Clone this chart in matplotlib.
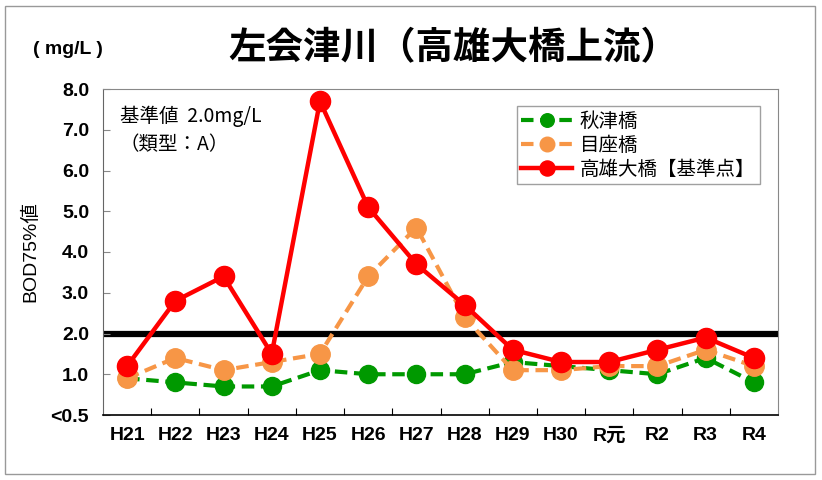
import matplotlib
matplotlib.use("Agg")
import matplotlib.pyplot as plt
from matplotlib.patches import Rectangle

plt.rcParams['font.family'] = ['Noto Sans CJK JP', 'DejaVu Sans']
LATIN = ['Liberation Sans', 'Noto Sans CJK JP']

years = ["H21", "H22", "H23", "H24", "H25", "H26", "H27", "H28",
         "H29", "H30", "R元", "R2", "R3", "R4"]
akitsu = [0.9, 0.8, 0.7, 0.7, 1.1, 1.0, 1.0, 1.0, 1.3, 1.2, 1.1, 1.0, 1.4, 0.8]
meza = [0.9, 1.4, 1.1, 1.3, 1.5, 3.4, 4.6, 2.4, 1.1, 1.1, 1.2, 1.2, 1.6, 1.2]
takao = [1.2, 2.8, 3.4, 1.5, 7.7, 5.1, 3.7, 2.7, 1.6, 1.3, 1.3, 1.6, 1.9, 1.4]
standard = 2.0
yticks = [0, 1, 2, 3, 4, 5, 6, 7, 8]
ylabels = ["<0.5", "1.0", "2.0", "3.0", "4.0", "5.0", "6.0", "7.0", "8.0"]

fig = plt.figure(figsize=(8.22, 4.8), dpi=100)
ax = fig.add_axes([103 / 822, 1 - 415 / 480, 675 / 822, 326 / 480])

x = range(len(years))
ax.axhline(standard, color="black", lw=4.5, zorder=1)
ax.plot(x, akitsu, color="#009900", ls=(0, (3, 1.6)), lw=3, marker="o", ms=13,
        label="秋津橋", zorder=3)
ax.plot(x, meza, color="#f79646", ls=(0, (3, 1.6)), lw=3, marker="o", ms=14,
        label="目座橋", zorder=4)
ax.plot(x, takao, color="#ff0000", lw=3.2, marker="o", ms=14.5,
        label="高雄大橋【基準点】", zorder=5)

ax.set_xlim(-0.5, len(years) - 0.5)
ax.set_ylim(0, 8)
ax.set_yticks(yticks)
ax.set_yticklabels(ylabels, fontsize=14, fontweight="bold", family=LATIN)
ax.set_xticks([i + 0.5 for i in range(len(years) - 1)])
ax.set_xticklabels([])
ax.set_xticks(list(x), minor=True)
ax.set_xticklabels(years, minor=True, fontsize=14, fontweight="bold", family=LATIN)
ax.tick_params(axis="x", which="major", direction="in", length=5, color="black")
ax.tick_params(axis="x", which="minor", length=0, pad=9)
ax.tick_params(axis="y", direction="in", length=5, color="#888888", pad=10)
for side in ["top", "right"]:
    ax.spines[side].set_color("#888888")
ax.spines["left"].set_color("#666666")
ax.spines["bottom"].set_color("black")
ax.spines["bottom"].set_linewidth(1.2)

ax.set_ylabel("BOD75%値", fontsize=14, family=LATIN, labelpad=8)

ax.text(0.025, 0.917, "基準値  2.0mg/L", transform=ax.transAxes, fontsize=14,
        va="center", ha="left")
ax.text(0.025, 0.83, "（類型：A）", transform=ax.transAxes, fontsize=14,
        va="center", ha="left")

leg = ax.legend(loc="upper right", bbox_to_anchor=(0.988, 0.978), fontsize=14,
                frameon=True, fancybox=False, edgecolor="#888888",
                handlelength=2.6, handletextpad=0.4, borderpad=0.25,
                labelspacing=0.15, markerscale=0.75)
leg.get_frame().set_linewidth(1)

fig.text(453 / 822, 1 - 48 / 480, "左会津川（高雄大橋上流）", fontsize=27,
         fontweight="bold", ha="center", va="center")
fig.text(68 / 822, 1 - 50 / 480, "( mg/L )", fontsize=14, fontweight="bold",
         family=LATIN, ha="center", va="center")

fig.patches.append(Rectangle((5 / 822, 6 / 480), 810 / 822, 468 / 480,
                             transform=fig.transFigure, fill=False,
                             edgecolor="#999999", lw=1))

fig.savefig("out.png", dpi=100)
